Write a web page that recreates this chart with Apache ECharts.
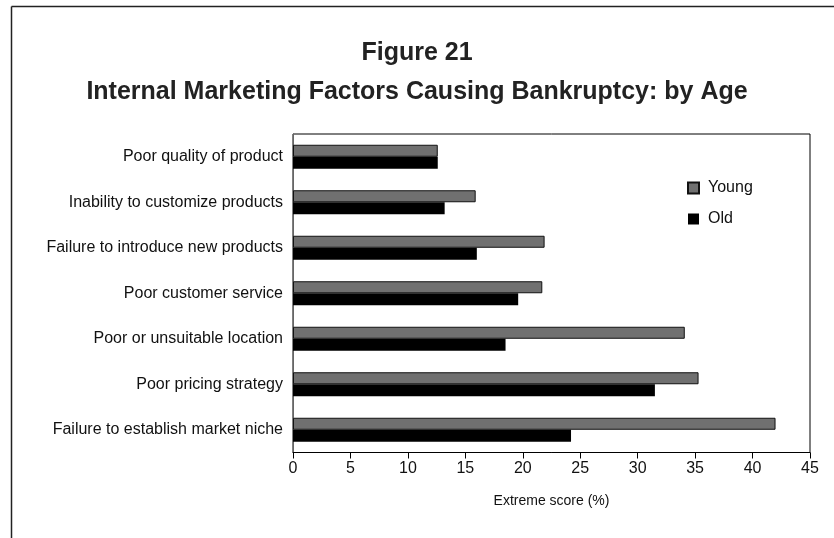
<!DOCTYPE html>
<html>
<head>
<meta charset="utf-8">
<script src="https://cdn.jsdelivr.net/npm/echarts@6/dist/echarts.min.js"></script>
<style>html,body{margin:0;padding:0;background:#fff;}#c{width:834px;height:538px;}</style>
</head>
<body>
<div id="c"></div>
<script>
const categories = [
  'Poor quality of product',
  'Inability to customize products',
  'Failure to introduce new products',
  'Poor customer service',
  'Poor or unsuitable location',
  'Poor pricing strategy',
  'Failure to establish market niche'
];
const youngValues = [12.6, 15.9, 21.9, 21.7, 34.1, 35.3, 42.0];
const oldValues = [12.6, 13.2, 16.0, 19.6, 18.5, 31.5, 24.2];
const xTicks = [0, 5, 10, 15, 20, 25, 30, 35, 40, 45];

const font = "'Liberation Sans', Arial, sans-serif";
const chart = echarts.init(document.getElementById('c'), null, {renderer: 'canvas'});
chart.setOption({
  animation: false,
  backgroundColor: '#fff',
  title: [
    {text: 'Figure 21', left: 'center', top: 36,
     textStyle: {fontFamily: font, fontWeight: 'bold', fontSize: 25, color: '#222'}},
    {text: 'Internal Marketing Factors Causing Bankruptcy: by Age', left: 'center', top: 75,
     textStyle: {fontFamily: font, fontWeight: 'bold', fontSize: 25, color: '#222'}}
  ],
  graphic: [
    {type: 'line', shape: {x1: 11.5, y1: 6.5, x2: 834, y2: 6.5}, style: {stroke: '#222', lineWidth: 1.5}},
    {type: 'line', shape: {x1: 11.5, y1: 6.5, x2: 11.5, y2: 538}, style: {stroke: '#222', lineWidth: 1.5}}
  ],
  legend: {
    orient: 'vertical', left: 682, top: 175, itemWidth: 11, itemHeight: 11, itemGap: 15,
    icon: 'rect',
    textStyle: {fontFamily: font, fontSize: 16, color: '#111', padding: [0, 0, 0, 4]},
    data: ['Young', 'Old']
  },
  grid: {left: 293, right: 24, top: 134, bottom: 85.5, show: true, borderColor: '#000', borderWidth: 1, containLabel: false},
  xAxis: {
    type: 'value', min: 0, max: 45, interval: 5,
    name: 'Extreme score (%)', nameLocation: 'middle', nameGap: 42,
    nameTextStyle: {fontFamily: font, fontSize: 14, color: '#111'},
    axisLine: {show: true, lineStyle: {color: '#000', width: 1}},
    axisTick: {show: true, length: 6, lineStyle: {color: '#000'}},
    axisLabel: {fontFamily: font, fontSize: 16, color: '#111', margin: 8,
      formatter: v => xTicks.includes(v) ? String(v) : ''},
    splitLine: {show: false}
  },
  yAxis: {
    type: 'category', data: categories, inverse: true,
    axisLine: {show: true, lineStyle: {color: '#666', width: 1}},
    axisTick: {show: false},
    axisLabel: {fontFamily: font, fontSize: 16, color: '#111', margin: 10},
    splitLine: {show: false}
  },
  series: [
    {name: 'Young', type: 'bar', data: youngValues, barWidth: 12, barGap: '0%', barCategoryGap: '47%',
     itemStyle: {color: '#707070', borderColor: '#111', borderWidth: 1}},
    {name: 'Old', type: 'bar', data: oldValues, barWidth: 12, barGap: '0%',
     itemStyle: {color: '#000', borderColor: '#000', borderWidth: 0}}
  ]
});
</script>
</body>
</html>
